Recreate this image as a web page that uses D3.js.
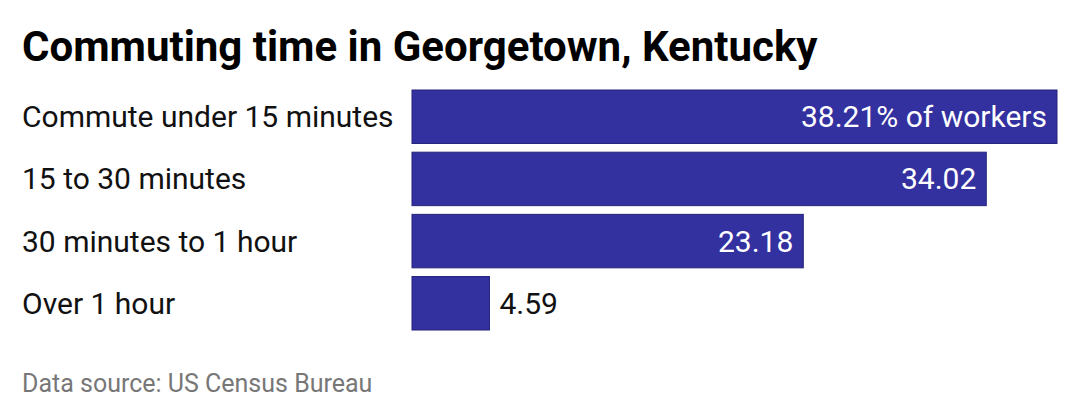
<!DOCTYPE html>
<html>
<head>
<meta charset="utf-8">
<script src="https://cdn.jsdelivr.net/npm/d3@7"></script>
<style>
  body { margin: 0; background: #fff; }
  text { font-family: Roboto, sans-serif; }
</style>
</head>
<body>
<svg id="chart"></svg>
<script>
const categories = ['Commute under 15 minutes', '15 to 30 minutes', '30 minutes to 1 hour', 'Over 1 hour']
const values = [38.21, 34.02, 23.18, 4.59]
const valueLabels = ['38.21% of workers', '34.02', '23.18', '4.59']

const width = 1080
const height = 420

const svg = d3.select('#chart')
  .attr('width', width)
  .attr('height', height)

// title
svg.append('text')
  .attr('x', 22)
  .attr('y', 61)
  .style('font-size', '42px')
  .style('font-weight', 700)
  .attr('fill', '#000')
  .text('Commuting time in Georgetown, Kentucky')

// scales
const xScale = d3.scaleLinear()
  .domain([0, 38.21])
  .range([412, 1057])
const yScale = d3.scaleBand()
  .domain(categories)
  .range([90, 330])
  .paddingInner(0.14)
  .paddingOuter(0)

// bars
svg.selectAll('.bar')
  .data(values)
  .enter()
  .append('rect')
  .attr('x', xScale(0))
  .attr('y', (d, i) => yScale(categories[i]))
  .attr('width', d => xScale(d) - xScale(0))
  .attr('height', yScale.bandwidth())
  .attr('fill', '#3330a0')
  .attr('stroke', '#25237a')
  .attr('stroke-width', 1)

// category labels
svg.selectAll('.cat-label')
  .data(categories)
  .enter()
  .append('text')
  .attr('x', 22)
  .attr('y', d => yScale(d) + yScale.bandwidth() / 2)
  .attr('dy', '0.35em')
  .style('font-size', '30px')
  .attr('fill', '#111')
  .text(d => d)

// value labels, inside long bars and outside short ones
svg.selectAll('.bar-label')
  .data(values)
  .enter()
  .append('text')
  .attr('x', d => d > 10 ? xScale(d) - 10 : xScale(d) + 10)
  .attr('y', (d, i) => yScale(categories[i]) + yScale.bandwidth() / 2)
  .attr('dy', '0.35em')
  .attr('text-anchor', d => d > 10 ? 'end' : 'start')
  .style('font-size', '30px')
  .attr('fill', d => d > 10 ? '#fff' : '#111')
  .text((d, i) => valueLabels[i])

// source
svg.append('text')
  .attr('x', 22)
  .attr('y', 392)
  .style('font-size', '25px')
  .attr('fill', '#777')
  .text('Data source: US Census Bureau')
</script>
</body>
</html>
